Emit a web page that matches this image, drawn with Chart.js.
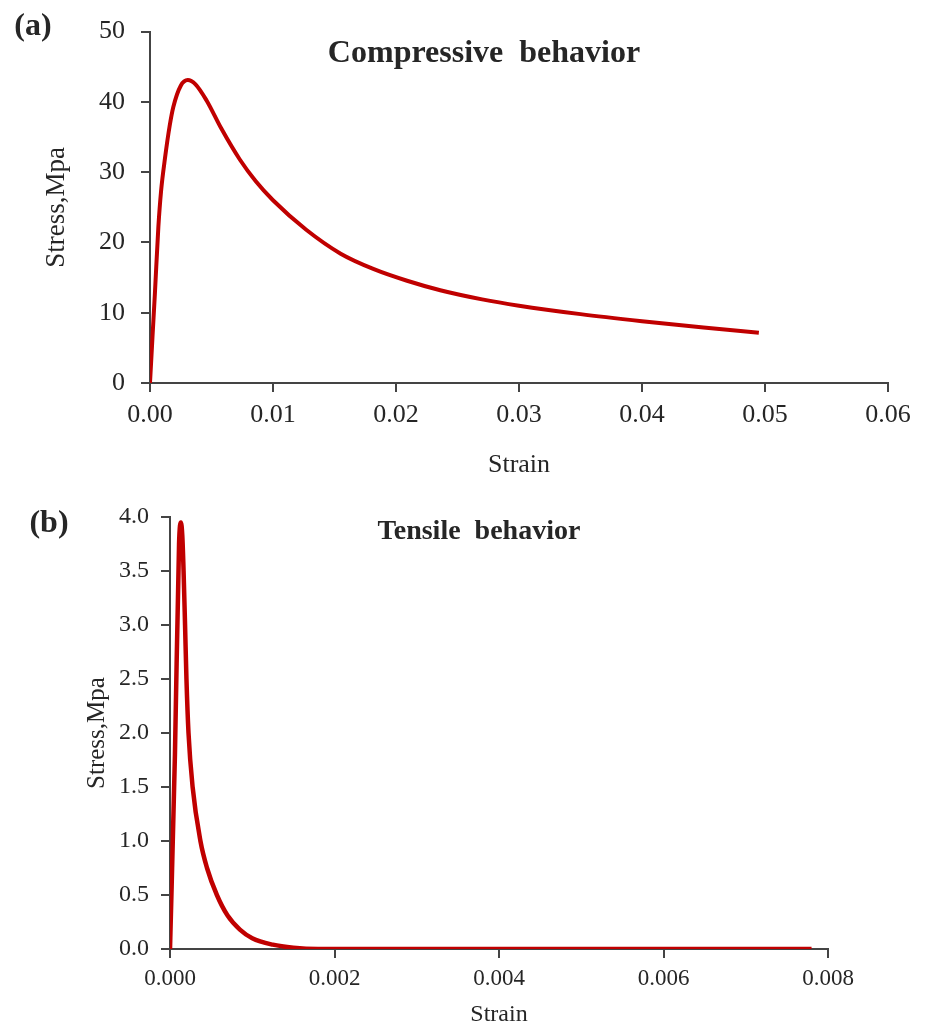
<!DOCTYPE html>
<html>
<head>
<meta charset="utf-8">
<script src="https://cdn.jsdelivr.net/npm/chart.js@4/dist/chart.umd.min.js"></script>
<style>
  body { margin: 0; background: #fff; }
  canvas { display: block; }
</style>
</head>
<body>
<canvas id="chartA" width="925" height="490"></canvas>
<canvas id="chartB" width="925" height="537"></canvas>
<script>
// (a) compressive behavior
const compStrain = [0, 0.0002, 0.0004, 0.00068, 0.0009, 0.00122, 0.0016, 0.0019, 0.0025, 0.00307, 0.0037, 0.0046, 0.0058,
    0.0073, 0.0086, 0.01, 0.0127, 0.0155, 0.0182, 0.0209, 0.0236, 0.027, 0.03, 0.035, 0.04, 0.045, 0.0495];
const compStress = [0, 6.5, 12.8, 22.2, 27.3, 32.0, 36.6, 39.3, 42.3, 43.1, 42.5, 40.2, 36.2,
    31.8, 28.7, 26.0, 21.8, 18.4, 16.2, 14.55, 13.2, 11.9, 11.0, 9.8, 8.8, 7.9, 7.15];

// (b) tensile behavior
const tensStrain = [0, 0.00006, 0.00011, 0.000133, 0.00015, 0.000165, 0.000183, 0.0002, 0.000225, 0.000275,
    0.00037, 0.00045, 0.00057, 0.0007, 0.00085, 0.001, 0.00125, 0.0015, 0.0018, 0.003, 0.005, 0.0078];
const tensStress = [0, 1.8, 3.75, 3.95, 3.82, 3.5, 3.0, 2.5, 2.0, 1.5,
    1.0, 0.75, 0.5, 0.31, 0.18, 0.1, 0.04, 0.012, 0, 0, 0, 0];

const lineColor = '#c00000';
const axisColor = '#444';
const textColor = '#262626';

Chart.defaults.font.family = "'Liberation Serif', 'Times New Roman', serif";
Chart.defaults.color = textColor;

// подписи панели: (a)/(b) и заголовок внутри графика
const panelText = {
    id: 'panelText',
    afterDraw(chart, args, opts) {
        const ctx = chart.ctx;
        ctx.save();
        ctx.fillStyle = textColor;
        ctx.textBaseline = 'middle';
        ctx.textAlign = 'center';
        ctx.font = 'bold ' + opts.tagSize + "px 'Liberation Serif', serif";
        ctx.fillText(opts.tag, opts.tagX, opts.tagY);
        ctx.font = 'bold ' + opts.titleSize + "px 'Liberation Serif', serif";
        ctx.fillText(opts.title, opts.titleX, opts.titleY);
        ctx.restore();
    }
};

function axisOpts(min, max, step, digits, fontSize, tickPad, title, titleFont, titlePad, size, isX) {
    return {
        type: 'linear',
        min: min,
        max: max,
        border: { display: true, color: axisColor, width: 2 },
        grid: { display: true, drawOnChartArea: false, drawTicks: true, tickLength: 9, color: axisColor, lineWidth: 2 },
        ticks: {
            stepSize: step,
            padding: tickPad,
            color: textColor,
            font: { size: fontSize },
            callback: v => Number(v).toFixed(digits)
        },
        title: {
            display: true,
            text: title,
            color: textColor,
            font: titleFont,
            padding: titlePad
        },
        afterFit: function (scale) {
            if (isX) scale.height = size; else scale.width = size;
        }
    };
}

new Chart(document.getElementById('chartA').getContext('2d'), {
    type: 'scatter',
    data: {
        datasets: [{
            data: compStrain.map((x, i) => ({ x: x, y: compStress[i] })),
            showLine: true,
            borderColor: lineColor,
            borderWidth: 4,
            pointRadius: 0,
            cubicInterpolationMode: 'monotone'
        }]
    },
    options: {
        responsive: false,
        animation: false,
        layout: { padding: { left: 0, right: 37, top: 30, bottom: 0 } },
        plugins: {
            legend: { display: false },
            tooltip: { enabled: false },
            panelText: { tag: '(a)', tagX: 33, tagY: 27, tagSize: 32, title: 'Compressive  behavior', titleX: 484, titleY: 54, titleSize: 32 }
        },
        scales: {
            x: axisOpts(0, 0.06, 0.01, 2, 26, 8, 'Strain', { size: 26, lineHeight: 1.2 }, { top: 0, bottom: 9 }, 107, true),
            y: axisOpts(0, 50, 10, 0, 26, 16, 'Stress,Mpa', { size: 27, lineHeight: 1.2 }, { top: 41, bottom: 0 }, 150, false)
        }
    },
    plugins: [panelText]
});

new Chart(document.getElementById('chartB').getContext('2d'), {
    type: 'scatter',
    data: {
        datasets: [{
            data: tensStrain.map((x, i) => ({ x: x, y: tensStress[i] })),
            showLine: true,
            borderColor: lineColor,
            borderWidth: 4.5,
            pointRadius: 0,
            cubicInterpolationMode: 'monotone'
        }]
    },
    options: {
        responsive: false,
        animation: false,
        layout: { padding: { left: 0, right: 97, top: 27, bottom: 0 } },
        plugins: {
            legend: { display: false },
            tooltip: { enabled: false },
            panelText: { tag: '(b)', tagX: 49, tagY: 34, tagSize: 32, title: 'Tensile  behavior', titleX: 479, titleY: 42, titleSize: 28 }
        },
        scales: {
            x: axisOpts(0, 0.008, 0.002, 3, 23, 7, 'Strain', { size: 24, lineHeight: 1.0 }, { top: 0, bottom: 0 }, 78, true),
            y: axisOpts(0, 4, 0.5, 1, 24, 12, 'Stress,Mpa', { size: 25, lineHeight: 1.2 }, { top: 82, bottom: 0 }, 170, false)
        }
    },
    plugins: [panelText]
});
</script>
</body>
</html>
